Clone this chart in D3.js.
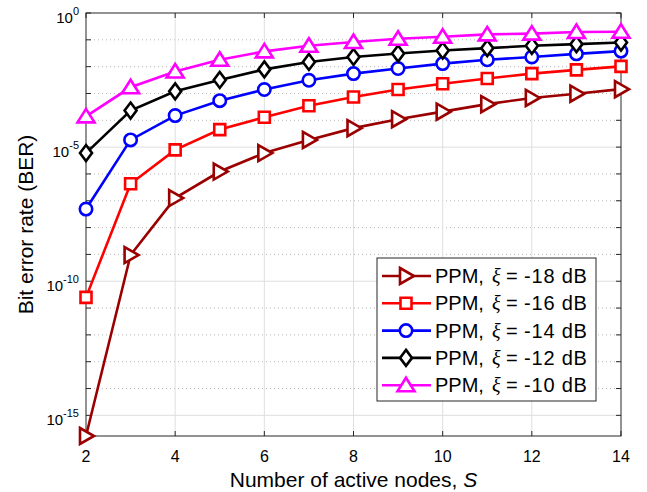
<!DOCTYPE html>
<html>
<head>
<meta charset="utf-8">
<script src="https://cdn.jsdelivr.net/npm/d3@7"></script>
<style>
  body { margin: 0; background: #fff; }
  text { font-family: "Liberation Sans", Arial, sans-serif; fill: #000; }
</style>
</head>
<body>
<script>
const width = 647;
const height = 492;
const marginTop = 13;
const marginRight = 26;
const marginBottom = 56;
const marginLeft = 86;

// number of active nodes S
const nodes = [2, 3, 4, 5, 6, 7, 8, 9, 10, 11, 12, 13, 14];
const snrLabels = ["-18", "-16", "-14", "-12", "-10"];
const xTicks = [2, 4, 6, 8, 10, 12, 14];
const yLabelTicks = [0, -5, -10, -15];

// BER
const berM18 = [1.7e-16, 9.5e-10, 1.26e-7, 1.23e-6, 6.0e-6, 1.86e-5, 5.1e-5, 1.1e-4, 2.1e-4, 4.0e-4, 6.8e-4, 9.8e-4, 1.45e-3];
const berM16 = [2.5e-11, 4.3e-7, 7.9e-6, 4.5e-5, 1.3e-4, 3.5e-4, 7.4e-4, 1.4e-3, 2.3e-3, 3.6e-3, 5.5e-3, 7.6e-3, 1.02e-2];
const berM14 = [4.9e-8, 1.86e-5, 1.5e-4, 5.4e-4, 1.4e-3, 3.1e-3, 5.5e-3, 8.5e-3, 1.3e-2, 1.8e-2, 2.3e-2, 3.0e-2, 3.8e-2];
const berM12 = [6.0e-6, 2.3e-4, 1.2e-3, 3.2e-3, 7.9e-3, 1.5e-2, 2.3e-2, 3.1e-2, 4.0e-2, 4.9e-2, 6.0e-2, 6.9e-2, 7.9e-2];
const berM10 = [1.4e-4, 1.7e-3, 6.6e-3, 1.8e-2, 3.7e-2, 6.0e-2, 8.3e-2, 0.11, 0.13, 0.16, 0.17, 0.195, 0.2];

const series = [
  { label: snrLabels[0], values: berM18, color: "#9b0000", marker: "right" },
  { label: snrLabels[1], values: berM16, color: "#ff0000", marker: "square" },
  { label: snrLabels[2], values: berM14, color: "#0000ff", marker: "circle" },
  { label: snrLabels[3], values: berM12, color: "#000000", marker: "diamond" },
  { label: snrLabels[4], values: berM10, color: "#ff00ff", marker: "up" },
];

const x = d3.scaleLinear([2, 14], [marginLeft, width - marginRight]);
const yMin = d3.min(series, (s) => d3.min(s.values));
const y = d3.scaleLog([yMin, 1], [height - marginBottom, marginTop]);

const svg = d3.select("body").append("svg")
  .attr("width", width)
  .attr("height", height);

const x0 = marginLeft, x1 = width - marginRight;
const y0 = height - marginBottom, y1 = marginTop;

// grid
const decades = d3.range(-15, 1);
svg.append("g")
  .selectAll("line")
  .data(decades.filter((d) => !yLabelTicks.includes(d)))
  .join("line")
  .attr("x1", x0).attr("x2", x1)
  .attr("y1", (d) => y(Math.pow(10, d))).attr("y2", (d) => y(Math.pow(10, d)))
  .attr("stroke", "#b8b8b8")
  .attr("stroke-dasharray", "1,3");

svg.append("g")
  .selectAll("line")
  .data(yLabelTicks.filter((d) => d !== 0))
  .join("line")
  .attr("x1", x0).attr("x2", x1)
  .attr("y1", (d) => y(Math.pow(10, d))).attr("y2", (d) => y(Math.pow(10, d)))
  .attr("stroke", "#dfdfdf");

svg.append("g")
  .selectAll("line")
  .data(xTicks.slice(1, -1))
  .join("line")
  .attr("x1", (d) => x(d)).attr("x2", (d) => x(d))
  .attr("y1", y0).attr("y2", y1)
  .attr("stroke", "#dfdfdf");

// box + ticks
svg.append("rect")
  .attr("x", x0).attr("y", y1)
  .attr("width", x1 - x0).attr("height", y0 - y1)
  .attr("fill", "none").attr("stroke", "#262626");

const ticks = svg.append("g").attr("stroke", "#262626");
xTicks.forEach((d) => {
  ticks.append("line").attr("x1", x(d)).attr("x2", x(d)).attr("y1", y0).attr("y2", y0 - 5);
  ticks.append("line").attr("x1", x(d)).attr("x2", x(d)).attr("y1", y1).attr("y2", y1 + 5);
});
decades.forEach((d) => {
  const yy = y(Math.pow(10, d));
  ticks.append("line").attr("x1", x0).attr("x2", x0 + 5).attr("y1", yy).attr("y2", yy);
  ticks.append("line").attr("x1", x1).attr("x2", x1 - 5).attr("y1", yy).attr("y2", yy);
});

// tick labels
svg.append("g")
  .selectAll("text")
  .data(xTicks)
  .join("text")
  .attr("x", (d) => x(d))
  .attr("y", y0 + 26)
  .attr("text-anchor", "middle")
  .attr("font-size", 16)
  .text((d) => d);

const yl = svg.append("g")
  .selectAll("text")
  .data(yLabelTicks)
  .join("text")
  .attr("x", x0 - 7)
  .attr("y", (d) => y(Math.pow(10, d)) + 10)
  .attr("text-anchor", "end")
  .attr("font-size", 15);
yl.append("tspan").text("10");
yl.append("tspan").attr("font-size", 11).attr("dy", -8).text((d) => d);

// axis titles
svg.append("text")
  .attr("x", (x0 + x1) / 2)
  .attr("y", 487)
  .attr("text-anchor", "middle")
  .attr("font-size", 21)
  .call((t) => t.append("tspan").text("Number of active nodes, "))
  .call((t) => t.append("tspan").attr("font-style", "italic").text("S"));

svg.append("text")
  .attr("transform", `translate(33,${(y0 + y1) / 2}) rotate(-90)`)
  .attr("text-anchor", "middle")
  .attr("font-size", 21)
  .text("Bit error rate (BER)");

// markers
function markerPath(type) {
  if (type === "right") return "M-6,-8L8,0L-6,8Z";
  if (type === "up") return "M0,-7.5L8.5,6L-8.5,6Z";
  if (type === "square") return "M-5.5,-5.5H5.5V5.5H-5.5Z";
  if (type === "diamond") return "M0,-8L6,0L0,8L-6,0Z";
  return d3.symbol(d3.symbolCircle, Math.PI * 6.2 * 6.2)();
}

const line = d3.line()
  .x((d, i) => x(nodes[i]))
  .y((d) => y(d));

const plot = svg.append("g");
series.forEach((s) => {
  plot.append("path")
    .attr("d", line(s.values))
    .attr("fill", "none")
    .attr("stroke", s.color)
    .attr("stroke-width", 2.6);
  plot.append("g")
    .selectAll("path")
    .data(s.values)
    .join("path")
    .attr("transform", (d, i) => `translate(${x(nodes[i])},${y(d)})`)
    .attr("d", markerPath(s.marker))
    .attr("fill", "#fff")
    .attr("stroke", s.color)
    .attr("stroke-width", 2.6);
});

// legend
const lg = svg.append("g").attr("transform", "translate(377,258)");
lg.append("rect")
  .attr("width", 219).attr("height", 143)
  .attr("fill", "#fff").attr("stroke", "#262626");
series.forEach((s, i) => {
  const g = lg.append("g").attr("transform", `translate(0,${18 + i * 27.3})`);
  g.append("line").attr("x1", 5).attr("x2", 54)
    .attr("stroke", s.color).attr("stroke-width", 2.6);
  g.append("path").attr("transform", "translate(29,0)")
    .attr("d", markerPath(s.marker))
    .attr("fill", "#fff").attr("stroke", s.color).attr("stroke-width", 2.6);
  const t = g.append("text").attr("y", 7).attr("font-size", 20);
  t.append("tspan").attr("x", 58).text("PPM,");
  t.append("tspan").attr("x", 115)
    .attr("font-family", "'Liberation Serif', serif")
    .attr("font-style", "italic").text("ξ");
  t.append("tspan").attr("x", 129).text("=");
  t.append("tspan").attr("x", 147).attr("letter-spacing", 0.8).text(s.label + " dB");
});
</script>
</body>
</html>
